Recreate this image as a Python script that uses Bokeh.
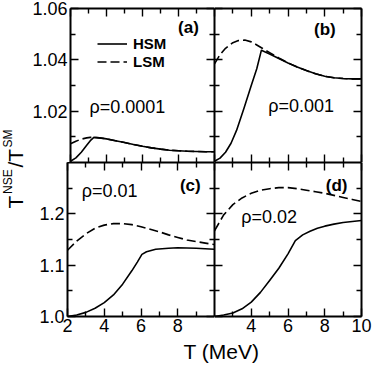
import math
from bokeh.plotting import figure
from bokeh.models import (Range1d, LinearAxis, FixedTicker, Label, Legend, LegendItem,
                          PrintfTickFormatter)
from bokeh.layouts import column, row
from bokeh.embed import file_html
from bokeh.resources import INLINE

# ---------------- data ----------------
# panel (a): rho = 0.0001
T_a = [2.0, 2.3, 2.6, 2.9, 3.1, 3.3, 3.6, 4.0, 4.5, 5.0, 5.5, 6.0, 6.5, 7.0, 7.5, 8.0, 8.5, 9.0, 9.5, 10.0]
hsm_a = [1.0005, 1.0018, 1.0040, 1.0067, 1.0085, 1.0098, 1.0096, 1.0092, 1.0085, 1.0078,
         1.0070, 1.0063, 1.0057, 1.0052, 1.0048, 1.0046, 1.0044, 1.0043, 1.0042, 1.0042]
lsm_a = [1.0073, 1.0083, 1.0091, 1.0096, 1.0098, 1.0098, 1.0096, 1.0092, 1.0085, 1.0078,
         1.0070, 1.0063, 1.0057, 1.0052, 1.0048, 1.0046, 1.0044, 1.0043, 1.0042, 1.0042]

# panel (b): rho = 0.001
T_b_hsm = [2.0, 2.3, 2.6, 2.9, 3.2, 3.6, 4.0, 4.3, 4.55, 5.0, 5.5, 6.0, 6.5, 7.0, 7.5, 8.0, 8.5, 9.0, 9.5, 10.0]
hsm_b = [1.0005, 1.0017, 1.0040, 1.0075, 1.0125, 1.0210, 1.0300, 1.0365, 1.0437, 1.0423,
         1.0405, 1.0388, 1.0372, 1.0358, 1.0346, 1.0336, 1.0330, 1.0327, 1.0326, 1.0326]
T_b_lsm = [2.0, 2.3, 2.6, 3.0, 3.3, 3.65, 4.0, 4.3, 4.6, 5.0, 5.5, 6.0, 6.5, 7.0, 7.5, 8.0, 8.5, 9.0, 9.5, 10.0]
lsm_b = [1.0384, 1.0420, 1.0445, 1.0467, 1.0475, 1.0477, 1.0470, 1.0458, 1.0445, 1.0428,
         1.0407, 1.0388, 1.0372, 1.0358, 1.0346, 1.0336, 1.0330, 1.0327, 1.0326, 1.0326]

# panel (c): rho = 0.01
T_c_hsm = [2.0, 2.5, 3.0, 3.5, 4.0, 4.5, 5.0, 5.5, 5.8, 6.05, 6.3, 6.8, 7.5, 8.0, 9.0, 10.0]
hsm_c = [1.000, 1.003, 1.008, 1.016, 1.027, 1.042, 1.063, 1.089, 1.106, 1.121, 1.126, 1.131,
         1.133, 1.134, 1.133, 1.131]
T_c_lsm = [2.0, 2.5, 3.0, 3.5, 4.0, 4.5, 5.0, 5.5, 6.0, 6.5, 7.0, 7.5, 8.0, 8.5, 9.0, 9.5, 10.0]
lsm_c = [1.129, 1.147, 1.161, 1.172, 1.178, 1.181, 1.181, 1.179, 1.175, 1.170, 1.165, 1.159,
         1.154, 1.149, 1.146, 1.143, 1.140]

# panel (d): rho = 0.02
T_d_hsm = [2.0, 2.5, 3.0, 3.5, 4.0, 4.5, 5.0, 5.5, 6.0, 6.4, 6.8, 7.2, 7.6, 8.0, 8.5, 9.0, 9.5, 10.0]
hsm_d = [1.000, 1.003, 1.007, 1.015, 1.028, 1.047, 1.070, 1.094, 1.122, 1.148, 1.159, 1.166,
         1.172, 1.176, 1.180, 1.183, 1.185, 1.187]
T_d_lsm = [2.0, 2.5, 3.0, 3.5, 4.0, 4.5, 5.0, 5.5, 6.0, 6.5, 7.0, 7.5, 8.0, 8.5, 9.0, 9.5, 10.0]
lsm_d = [1.167, 1.198, 1.218, 1.231, 1.240, 1.246, 1.249, 1.251, 1.251, 1.249, 1.246, 1.243,
         1.240, 1.236, 1.232, 1.228, 1.224]

# ticks / tick labels
x_major = [2, 4, 6, 8, 10]
x_minor = [3, 5, 7, 9]
x_major_left = [2, 4, 6, 8]
x_major_right = [4, 6, 8, 10]
y_top_major = [1.02, 1.04, 1.06]
y_top_minor = [1.01, 1.03, 1.05]
y_bot_major = [1.0, 1.1, 1.2]
y_bot_minor = [1.05, 1.15, 1.25]

panel_tags = ["(a)", "(b)", "(c)", "(d)"]
rho_texts = ["ρ=0.0001", "ρ=0.001", "ρ=0.01", "ρ=0.02"]
series_names = ["HSM", "LSM"]

# ---------------- layout constants ----------------
FONT = "Liberation Sans"
W_Y = 29                      # strip holding the y title
LEFT_B, RIGHT_B, TOP_B, BOT_B = 38, 12, 8, 22
FW, FH = 147, 154
XLAB_H = 28


def style_axis(ax, show_labels, standoff=3, fmt=None):
    ax.axis_line_width = 2
    ax.axis_line_color = "black"
    ax.major_tick_in = 8
    ax.major_tick_out = 0
    ax.minor_tick_in = 5
    ax.minor_tick_out = 0
    ax.major_tick_line_width = 1.4
    ax.minor_tick_line_width = 1.4
    ax.major_tick_line_color = "black"
    ax.minor_tick_line_color = "black"
    if show_labels:
        ax.major_label_text_font = FONT
        ax.major_label_text_font_size = "18px"
        ax.major_label_text_color = "black"
        ax.major_label_standoff = standoff
        if fmt is not None:
            ax.formatter = PrintfTickFormatter(format=fmt)
    else:
        ax.major_label_text_font_size = "0px"
        ax.major_label_text_alpha = 0
        ax.major_label_standoff = 0


def make_panel(col, rw, ylo, yhi, ymaj, ymin, xlab_major, yfmt):
    bl = LEFT_B if col == 0 else 0
    br = RIGHT_B if col == 1 else 0
    bt = TOP_B if rw == 0 else 0
    bb = BOT_B if rw == 1 else 0
    p = figure(width=FW + bl + br, height=FH + bt + bb,
               x_range=Range1d(2, 10), y_range=Range1d(ylo, yhi),
               x_axis_type=None, y_axis_type=None,
               toolbar_location=None, output_backend="svg",
               min_border_left=bl, min_border_right=br,
               min_border_top=bt, min_border_bottom=bb)
    p.outline_line_color = None
    p.background_fill_color = "white"
    p.border_fill_color = "white"

    ax = LinearAxis(ticker=FixedTicker(ticks=ymaj, minor_ticks=ymin))
    style_axis(ax, col == 0, standoff=3, fmt=yfmt)
    p.add_layout(ax, "left")

    ax = LinearAxis(ticker=FixedTicker(ticks=ymaj, minor_ticks=ymin))
    style_axis(ax, False)
    p.add_layout(ax, "right")

    ax = LinearAxis(ticker=FixedTicker(ticks=x_major, minor_ticks=x_minor))
    style_axis(ax, False)
    p.add_layout(ax, "above")

    if rw == 1:
        ax = LinearAxis(ticker=FixedTicker(ticks=xlab_major, minor_ticks=x_minor))
        style_axis(ax, True, standoff=2, fmt="%d")
    else:
        ax = LinearAxis(ticker=FixedTicker(ticks=x_major, minor_ticks=x_minor))
        style_axis(ax, False)
    p.add_layout(ax, "below")
    return p


def add_curves(p, th, yh, tl, yl):
    r1 = p.line(th, yh, line_color="black", line_width=1.6, line_join="round")
    r2 = p.line(tl, yl, line_color="black", line_width=1.6, line_dash="9 4", line_join="round")
    return r1, r2


def add_text(p, x, y, text, size, bold=False, align="left"):
    p.add_layout(Label(x=x, y=y, text=text, text_align=align, text_baseline="middle",
                       text_font=FONT, text_font_size=size, text_color="black",
                       text_font_style="bold" if bold else "normal"))


pa = make_panel(0, 0, 1.0, 1.06, y_top_major, y_top_minor, x_major, "%.2f")
pb = make_panel(1, 0, 1.0, 1.06, y_top_major, y_top_minor, x_major, "%.2f")
pc = make_panel(0, 1, 1.0, 1.3, y_bot_major, y_bot_minor, x_major_left, "%.1f")
pd = make_panel(1, 1, 1.0, 1.3, y_bot_major, y_bot_minor, x_major_right, "%.1f")

ra1, ra2 = add_curves(pa, T_a, hsm_a, T_a, lsm_a)
add_curves(pb, T_b_hsm, hsm_b, T_b_lsm, lsm_b)
add_curves(pc, T_c_hsm, hsm_c, T_c_lsm, lsm_c)
add_curves(pd, T_d_hsm, hsm_d, T_d_lsm, lsm_d)

# panel tags
add_text(pa, 9.13, 1.0527, panel_tags[0], "17px", bold=True, align="right")
add_text(pb, 8.6, 1.0517, panel_tags[1], "17px", bold=True, align="right")
add_text(pc, 9.25, 1.2556, panel_tags[2], "17px", bold=True, align="right")
add_text(pd, 9.24, 1.2556, panel_tags[3], "17px", bold=True, align="right")

# density labels
add_text(pa, 3.05, 1.0215, rho_texts[0], "18px")
add_text(pb, 4.92, 1.0220, rho_texts[1], "18px")
add_text(pc, 2.78, 1.2442, rho_texts[2], "18px")
add_text(pd, 3.46, 1.1947, rho_texts[3], "18px")

# legend in panel (a)
legend = Legend(items=[LegendItem(label=series_names[0], renderers=[ra1]),
                       LegendItem(label=series_names[1], renderers=[ra2])],
                location=(27, 92), padding=0, margin=0, spacing=1,
                glyph_width=30, glyph_height=15, label_height=15, label_standoff=6,
                label_text_font=FONT, label_text_font_size="15px",
                label_text_font_style="bold", label_text_color="black",
                border_line_color=None, background_fill_alpha=0)
pa.add_layout(legend)

# ---------------- y-axis title strip:  T^NSE / T^SM ----------------
grid_h = TOP_B + 2 * FH + BOT_B
py = figure(width=W_Y, height=grid_h, x_range=Range1d(0, W_Y), y_range=Range1d(0, grid_h),
            x_axis_type=None, y_axis_type=None, toolbar_location=None,
            output_backend="svg", min_border=0)
py.outline_line_color = None
mid = TOP_B + FH   # row divider, pixels from the top of the strip


def title_piece(x, y_from_top, text, size):
    py.add_layout(Label(x=x, y=grid_h - y_from_top, text=text, angle=math.pi / 2,
                        text_align="left", text_baseline="middle", text_font=FONT,
                        text_font_size=size, text_color="black"))


title_piece(15, mid + 46, "T", "21px")
title_piece(7.5, mid + 31.5, "NSE", "12px")
title_piece(15, mid + 5, "/T", "21px")
title_piece(7.5, mid - 15, "SM", "12px")

# ---------------- x-axis title ----------------
total_w = W_Y + LEFT_B + 2 * FW + RIGHT_B
px = figure(width=total_w, height=XLAB_H, x_range=Range1d(0, total_w), y_range=Range1d(0, XLAB_H),
            x_axis_type=None, y_axis_type=None, toolbar_location=None,
            output_backend="svg", min_border=0)
px.outline_line_color = None
px.add_layout(Label(x=W_Y + LEFT_B + FW + 7, y=XLAB_H / 2 + 1, text="T (MeV)", text_align="center",
                    text_baseline="middle", text_font=FONT, text_font_size="21px",
                    text_color="black"))

layout = column(row(py, column(row(pa, pb), row(pc, pd))), px)

open("out.html", "w").write(file_html(layout, INLINE))
